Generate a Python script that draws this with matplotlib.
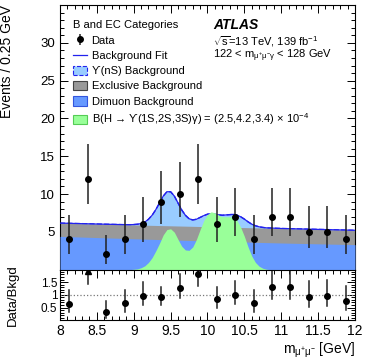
import numpy as np
import matplotlib
matplotlib.use("Agg")
import matplotlib.pyplot as plt
from matplotlib.patches import Patch
from matplotlib.lines import Line2D
from matplotlib.ticker import MultipleLocator, FixedLocator

plt.rcParams['font.family'] = ['Liberation Sans', 'DejaVu Sans']
plt.rcParams['mathtext.fontset'] = 'custom'
plt.rcParams['mathtext.rm'] = 'Liberation Sans'
plt.rcParams['mathtext.it'] = 'Liberation Sans:italic'
plt.rcParams['mathtext.default'] = 'regular'

# data points (bin centres, events per 0.25 GeV), Poisson intervals
bin_centres = [8.125, 8.375, 8.625, 8.875, 9.125, 9.375, 9.625, 9.875,
               10.125, 10.375, 10.625, 10.875, 11.125, 11.375, 11.625, 11.875]
counts = [4, 12, 2, 4, 6, 9, 10, 12, 6, 7, 4, 7, 7, 5, 5, 4]
err_low = [1.91, 3.35, 1.29, 1.91, 2.38, 2.93, 3.09, 3.35,
           2.38, 2.58, 1.91, 2.58, 2.58, 2.16, 2.16, 1.91]
err_high = [3.16, 4.57, 2.64, 3.16, 3.58, 4.11, 4.27, 4.57,
            3.58, 3.77, 3.16, 3.77, 3.77, 3.38, 3.38, 3.16]

# data / background ratio
ratio = [0.65, 1.93, 0.32, 0.66, 0.95, 0.9, 1.27, 1.83,
         0.82, 1.0, 0.66, 1.3, 1.32, 0.93, 0.94, 0.75]
ratio_low = [0.31, 0.5, 0.22, 0.32, 0.37, 0.3, 0.38, 0.5,
             0.32, 0.36, 0.32, 0.48, 0.48, 0.4, 0.4, 0.36]
ratio_high = [0.52, 0.0, 0.42, 0.52, 0.57, 0.41, 0.53, 0.7,
              0.49, 0.54, 0.53, 0.7, 0.7, 0.63, 0.63, 0.59]
ratio_clipped = [False, True, False, False, False, False, False, False,
                 False, False, False, False, False, False, False, False]

# smooth continuum components
cont_x = [8.0, 9.0, 10.0, 11.0, 12.0]
dimuon = [4.4, 4.08, 3.78, 3.52, 3.3]
dimuon_plus_excl = [6.15, 5.91, 5.68, 5.44, 5.2]

# total background fit (continuum + Upsilon(nS) background)
fit_x = [8.0, 8.5, 8.9, 8.95, 9.0, 9.05, 9.1, 9.15, 9.2, 9.25, 9.3, 9.35,
         9.4, 9.45, 9.5, 9.55, 9.6, 9.65, 9.7, 9.75, 9.8, 9.85, 9.9, 9.95,
         10.0, 10.05, 10.1, 10.15, 10.2, 10.25, 10.3, 10.35, 10.4, 10.45,
         10.5, 10.55, 10.6, 10.65, 10.7, 10.75, 10.8, 11.0, 11.5, 12.0]
fit_total = [6.15, 6.03, 5.94, 5.94, 5.96, 6.0, 6.09, 6.28, 6.66, 7.2, 7.94, 8.83,
             9.72, 10.3, 10.3, 9.73, 8.82, 7.9, 7.19, 6.73, 6.57, 6.66, 6.9, 7.14,
             7.33, 7.37, 7.31, 7.25, 7.19, 7.23, 7.27, 7.31, 7.2, 6.99,
             6.68, 6.32, 6.01, 5.8, 5.66, 5.58, 5.52, 5.44, 5.32, 5.2]

# signal B(H -> Upsilon(1S,2S,3S) gamma)
sig_x = [8.95, 9.0, 9.05, 9.1, 9.15, 9.2, 9.25, 9.3, 9.35, 9.4, 9.45, 9.5,
         9.55, 9.6, 9.65, 9.7, 9.75, 9.8, 9.85, 9.9, 9.95, 10.0, 10.05, 10.1,
         10.15, 10.2, 10.25, 10.3, 10.35, 10.4, 10.45, 10.5, 10.55, 10.6,
         10.65, 10.7, 10.75, 10.8, 10.85]
signal = [0.0, 0.05, 0.1, 0.25, 0.5, 0.95, 1.6, 2.5, 3.5, 4.6, 5.3, 5.4,
          4.95, 4.0, 3.1, 2.6, 2.55, 3.0, 4.0, 5.3, 6.5, 7.3, 7.65, 7.5,
          7.2, 7.0, 7.0, 7.0, 6.9, 6.5, 5.6, 4.4, 3.0, 1.8,
          0.95, 0.45, 0.18, 0.05, 0.0]

x_ticks = [8, 8.5, 9, 9.5, 10, 10.5, 11, 11.5, 12]
x_tick_labels = ['8', '8.5', '9', '9.5', '10', '10.5', '11', '11.5', '12']

c_ups = '#99ccff'
c_excl = '#999999'
c_dimu = '#6699ff'
c_sig = '#99ff99'
c_fit = '#2222ee'

fig = plt.figure(figsize=(3.74, 3.59), dpi=100)
ax = fig.add_axes([0.1604, 0.249, 0.7888, 0.737])
rax = fig.add_axes([0.1604, 0.108, 0.7888, 0.141])

# stacked background shapes
ax.fill_between(fit_x, 0, fit_total, color=c_ups, lw=0, zorder=1)
ax.plot(fit_x, fit_total, color=c_fit, lw=1.0, ls='--', zorder=1.5)
ax.fill_between(cont_x, 0, dimuon_plus_excl, color=c_excl, lw=0, zorder=2)
ax.fill_between(cont_x, 0, dimuon, color=c_dimu, lw=0, zorder=3)
ax.plot(fit_x, fit_total, color=c_fit, lw=0.9, zorder=4)
ax.fill_between(sig_x, 0, signal, color=c_sig, lw=0, zorder=5)

data_h = ax.errorbar(bin_centres, counts, yerr=[err_low, err_high], fmt='o',
                     color='black', ecolor='#222222', ms=4, elinewidth=1.1,
                     capsize=0, zorder=6)

ax.set_xlim(8, 12)
ax.set_ylim(0, 35)
ax.yaxis.set_major_locator(FixedLocator([5, 10, 15, 20, 25, 30]))
ax.yaxis.set_minor_locator(MultipleLocator(1))
ax.xaxis.set_major_locator(FixedLocator(x_ticks))
ax.xaxis.set_minor_locator(MultipleLocator(0.1))
ax.tick_params(axis='x', labelbottom=False)
ax.set_ylabel('Events / 0.25 GeV', fontsize=10, ha='right')
ax.yaxis.set_label_coords(-0.155, 1.0)

for a in (ax, rax):
    a.tick_params(which='both', direction='in', top=True, right=True,
                  labelsize=9.5, width=0.7)
    a.tick_params(which='major', length=6)
    a.tick_params(which='minor', length=3)
    for s in a.spines.values():
        s.set_linewidth(0.8)

handles = [
    data_h,
    Line2D([], [], color=c_fit, lw=0.9),
    Patch(facecolor=c_ups, edgecolor=c_fit, ls='--', lw=0.8),
    Patch(facecolor=c_excl, edgecolor='#444444', lw=0.8),
    Patch(facecolor=c_dimu, edgecolor='#3355dd', lw=0.8),
    Patch(facecolor=c_sig, edgecolor='#55cc55', lw=0.8),
]
labels = [
    'Data',
    'Background Fit',
    '\u03d2(nS) Background',
    'Exclusive Background',
    'Dimuon Background',
    'B(H \u2192 \u03d2(1S,2S,3S)\u03b3) = (2.5,4.2,3.4) $\\times$ 10$^{-4}$',
]
leg = ax.legend(handles, labels, loc='upper left', bbox_to_anchor=(0.045, 0.942),
                frameon=False, fontsize=8, title='B and EC Categories',
                title_fontsize=8, alignment='left', borderpad=0,
                borderaxespad=0, handlelength=1.2, handleheight=0.95,
                handletextpad=0.45, labelspacing=0.42)

ax.text(0.52, 0.908, 'ATLAS', transform=ax.transAxes, fontsize=10,
        fontweight='bold', fontstyle='italic')
ax.text(0.52, 0.848, '$\\sqrt{s}$=13 TeV, 139 fb$^{-1}$', transform=ax.transAxes,
        fontsize=8)
ax.text(0.52, 0.798, '122 < m$_{\\mu^{+}\\mu^{-}\\gamma}$ < 128 GeV',
        transform=ax.transAxes, fontsize=8)

# ratio panel
rax.axhline(1.0, color='#777777', ls=':', lw=0.9)
for x, r, lo, hi, clip in zip(bin_centres, ratio, ratio_low, ratio_high, ratio_clipped):
    rax.plot([x, x], [r - lo, r + hi], color='#222222', lw=1.1)
    rax.plot(x, r, marker='^' if clip else 'o', color='black', ms=4)

rax.set_xlim(8, 12)
rax.set_ylim(0, 1.99)
rax.yaxis.set_major_locator(FixedLocator([0.5, 1.0, 1.5]))
rax.yaxis.set_minor_locator(MultipleLocator(0.1))
rax.set_yticklabels(['0.5', '1', '1.5'])
rax.xaxis.set_major_locator(FixedLocator(x_ticks))
rax.xaxis.set_minor_locator(MultipleLocator(0.1))
rax.set_xticklabels(x_tick_labels)
rax.tick_params(axis='y', labelsize=8.5, pad=2)
rax.tick_params(axis='x', labelsize=10, pad=3)
rax.set_ylabel('Data/Bkgd', fontsize=9.5)
rax.yaxis.set_label_coords(-0.14, 0.5)
rax.set_xlabel('m$_{\\mu^{+}\\mu^{-}}$ [GeV]', fontsize=10, ha='right')
rax.xaxis.set_label_coords(1.0, -0.4)

fig.savefig('out.png', dpi=100)
